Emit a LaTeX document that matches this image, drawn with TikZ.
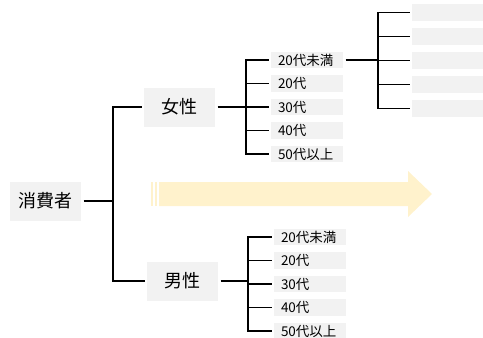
\documentclass[tikz,border=0pt]{standalone}
\usepackage{fontspec}
\setmainfont{Noto Sans CJK JP}
\usetikzlibrary{positioning}
\definecolor{arrowyellow}{HTML}{FFF2CC}

\begin{document}
\begin{tikzpicture}[x=1pt, y=-1pt, line width=1.1pt,
        bigbox/.style={fill=black!5, minimum width=71pt, minimum height=39pt, inner sep=0pt, outer xsep=2.5pt, outer ysep=0pt, font=\fontsize{18}{20}\selectfont},
        agebox/.style={fill=black!5, text width=58pt, align=left, inner xsep=7pt, inner ysep=0pt, minimum height=16.5pt, outer xsep=2.5pt, outer ysep=0pt, font=\fontsize{13.5}{15}\selectfont},
        blankbox/.style={fill=black!5, minimum width=71pt, minimum height=16.5pt, inner sep=0pt, outer xsep=2.5pt, outer ysep=0pt}]
        \useasboundingbox (0,0) rectangle (483,338);
        %---------------------------
        \fill[arrowyellow] (159,182) -- (408,182) -- (408,171) -- (432,194) -- (408,217) -- (408,206) -- (159,206) -- cycle;
        \fill[arrowyellow] (151,182) rectangle (153,206);
        \fill[arrowyellow] (154.5,182) rectangle (156.5,206);
        %---------------------------
        \node[bigbox] (cons) at (45.5,201) {消費者};
        \node[bigbox] (fem) at (179.5,107) {女性};
        \node[bigbox] (male) at (182.5,281) {男性};
        \coordinate (j0) at (113,201);
        \coordinate (jf) at (246,107);
        \coordinate (jm) at (248,281);
        \coordinate (jx) at (378,60);
        %---------------------------
        \node[agebox, anchor=west] (fa1) at (268.5,60) {20代未満};
        \node[agebox, below=7pt of fa1] (fa2) {20代};
        \node[agebox, below=7pt of fa2] (fa3) {30代};
        \node[agebox, below=7pt of fa3] (fa4) {40代};
        \node[agebox, below=7pt of fa4] (fa5) {50代以上};
        \node[agebox, anchor=west] (ma1) at (271.5,237) {20代未満};
        \node[agebox, below=7pt of ma1] (ma2) {20代};
        \node[agebox, below=7pt of ma2] (ma3) {30代};
        \node[agebox, below=7pt of ma3] (ma4) {40代};
        \node[agebox, below=7pt of ma4] (ma5) {50代以上};
        \node[blankbox, anchor=west] (sub1) at (409.5,12.5) {};
        \node[blankbox, below=7.5pt of sub1] (sub2) {};
        \node[blankbox, below=7.5pt of sub2] (sub3) {};
        \node[blankbox, below=7.5pt of sub3] (sub4) {};
        \node[blankbox, below=7.5pt of sub4] (sub5) {};
        %--------------------------
        \draw (cons) -- (j0);
        \draw (j0) |- (fem);
        \draw (j0) |- (male);
        \draw (fem) -- (jf);
        \draw (jf) |- (fa1);
        \draw (jf) |- (fa2);
        \draw (jf) |- (fa3);
        \draw (jf) |- (fa4);
        \draw (jf) |- (fa5);
        \draw (male) -- (jm);
        \draw (jm) |- (ma1);
        \draw (jm) |- (ma2);
        \draw (jm) |- (ma3);
        \draw (jm) |- (ma4);
        \draw (jm) |- (ma5);
        \draw (fa1) -- (jx);
        \draw (jx) |- (sub1);
        \draw (jx) |- (sub2);
        \draw (jx) |- (sub3);
        \draw (jx) |- (sub4);
        \draw (jx) |- (sub5);
\end{tikzpicture}
\end{document}
